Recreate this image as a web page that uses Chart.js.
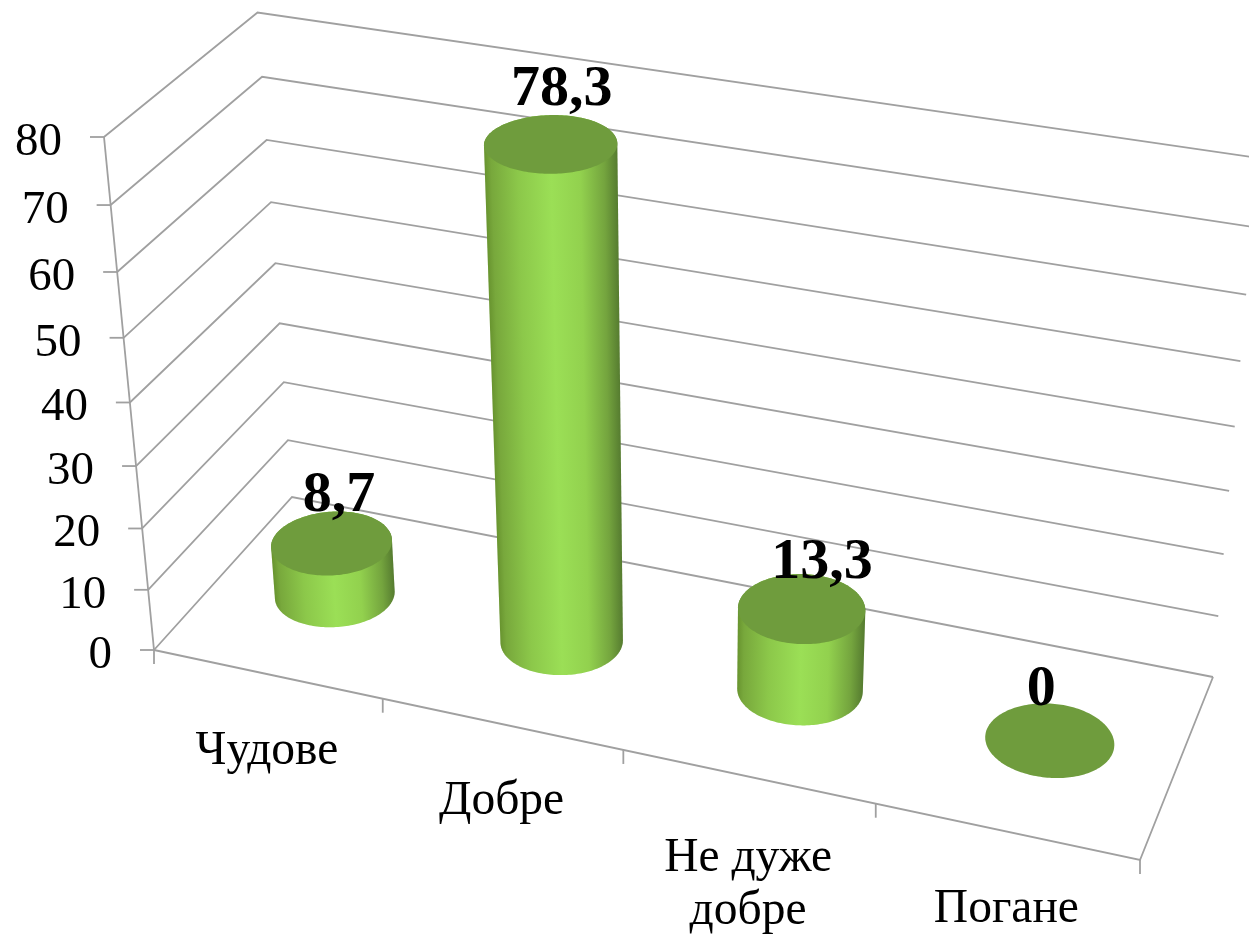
<!DOCTYPE html>
<html lang="uk">
<head>
<meta charset="utf-8">
<style>html,body{margin:0;padding:0;background:#fff}canvas{display:block}</style>
<script src="https://cdn.jsdelivr.net/npm/chart.js@4/dist/chart.umd.min.js"></script>
</head>
<body>
<canvas id="c" width="1249" height="935"></canvas>
<script>
const categories = ['Чудове', 'Добре', ['Не дуже', 'добре'], 'Погане'];
const values = [8.7, 78.3, 13.3, 0];
const valueLabels = ['8,7', '78,3', '13,3', '0'];
const axisMin = 0, axisMax = 80, axisStep = 10;

/* Perspective frame of the picture (box corners) */
const A = [154, 650], B = [1140, 860], C = [1213, 677], D = [292, 497];
const E = [104, 137], F = [257.5, 12.5], G = [1258, 158], H = [1185, 327];
const SERIF = '"Liberation Serif","Times New Roman",serif';
const GRID = '#a0a0a0';
const labelShift = [[7.5, -32], [11, -39], [20.5, -31], [-8.5, -36]];
const shadeStops = [[0, '#68942f'], [0.05, '#78a83c'], [0.25, '#8cc84a'], [0.5, '#9bdf56'],
                    [0.72, '#92d14e'], [0.9, '#74a43e'], [1, '#567c30']];

const lerp = (a, b, t) => a + (b - a) * t;
const bil = (p00, p10, p01, p11, u, z, k) =>
  lerp(lerp(p00[k], p10[k], u), lerp(p01[k], p11[k], u), z);
const warpU = u => 0.904 * u + 0.096 * u * u;
const warpT = t => 0.93 * t + 0.07 * t * t;
function project(u, t, z) {
  const U = warpU(u), f = warpT(t);
  const out = [];
  for (const k of [0, 1]) {
    const fl = bil(A, B, D, C, U, z, k);
    const tp = bil(E, H, F, G, U, z, k);
    out.push(fl + (tp - fl) * f);
  }
  return out;
}
function hull(points) {
  const p = points.slice().sort((a, b) => a[0] - b[0] || a[1] - b[1]);
  const cross = (o, a, b) => (a[0] - o[0]) * (b[1] - o[1]) - (a[1] - o[1]) * (b[0] - o[0]);
  const lo = [], up = [];
  for (const q of p) { while (lo.length > 1 && cross(lo[lo.length - 2], lo[lo.length - 1], q) <= 0) lo.pop(); lo.push(q); }
  for (const q of p.slice().reverse()) { while (up.length > 1 && cross(up[up.length - 2], up[up.length - 1], q) <= 0) up.pop(); up.push(q); }
  return lo.slice(0, -1).concat(up.slice(0, -1));
}

const scene = {
  id: 'scene',
  beforeDatasetsDraw(chart) {
    const ctx = chart.ctx, ya = chart.scales.y, xa = chart.scales.x, area = chart.chartArea;
    const fracT = v => (ya.getPixelForValue(axisMin) - ya.getPixelForValue(v)) / (ya.getPixelForValue(axisMin) - ya.getPixelForValue(axisMax));
    ctx.save();
    ctx.strokeStyle = GRID; ctx.lineWidth = 1.8; ctx.lineCap = 'butt';
    const seg = pts => { ctx.beginPath(); pts.forEach((p, i) => i ? ctx.lineTo(p[0], p[1]) : ctx.moveTo(p[0], p[1])); ctx.stroke(); };
    ya.ticks.forEach(tk => {
      const t = fracT(tk.value);
      const a = project(0, t, 0), b = project(0, t, 1), c = project(1, t, 1);
      seg([a, b, c]);
      seg([[a[0] - 14, a[1]], a]);
    });
    seg([project(0, 0, 0), project(0, 1, 0)]);
    seg([project(0, 0, 0), project(1, 0, 0), project(1, 0, 1)]);
    const n = categories.length;
    const edgeU = [0];
    for (let i = 1; i < n; i++) edgeU.push(((xa.getPixelForValue(i - 1) + xa.getPixelForValue(i)) / 2 - area.left) / area.width);
    edgeU.push(1);
    edgeU.forEach(u => { const p = project(u, 0, 0); seg([p, [p[0], p[1] + 14]]); });
    ctx.fillStyle = '#000'; ctx.font = '47px ' + SERIF; ctx.textAlign = 'right'; ctx.textBaseline = 'alphabetic';
    ya.ticks.forEach(tk => {
      const a = project(0, fracT(tk.value), 0);
      ctx.fillText(String(tk.value), a[0] - 42, a[1] + 18);
    });
    ctx.textAlign = 'center';
    ctx.font = '47.5px ' + SERIF;
    xa.getLabels().forEach((lab, i) => {
      const u = (xa.getPixelForValue(i) - area.left) / area.width;
      const p = project(u, 0, 0);
      const lines = Array.isArray(lab) ? lab : [lab];
      const extra = lines.length > 1 ? 4 : 0;
      lines.forEach((ln, j) => ctx.fillText(ln, p[0], p[1] + 90 + extra + j * 53));
    });
    ctx.restore();
  },
  afterDatasetsDraw(chart) {
    const ctx = chart.ctx, area = chart.chartArea;
    const meta = chart.getDatasetMeta(0);
    const z0 = 0.51, rz = 0.196, ru = 0.0612, du = 0.0015;
    const tops = [];
    meta.data.forEach((bar) => {
      const u0 = (bar.x - area.left) / area.width + du;
      const t = (bar.base - bar.y) / (area.bottom - area.top);
      const N = 180, topP = [], baseP = [];
      for (let k = 0; k < N; k++) {
        const th = 2 * Math.PI * k / N;
        const u = u0 + ru * Math.cos(th), z = z0 + rz * Math.sin(th);
        topP.push(project(u, t, z)); baseP.push(project(u, 0, z));
      }
      if (t > 0.001) {
        const ext = (arr, cmp) => arr.reduce((m, p) => cmp(p[0], m[0]) ? p : m, arr[0]);
        const lt = ext(topP, (a, b) => a < b), lb = ext(baseP, (a, b) => a < b);
        const rt = ext(topP, (a, b) => a > b), rb = ext(baseP, (a, b) => a > b);
        const pts = hull(topP.concat(baseP));
        const ys = pts.map(p => p[1]), y0 = Math.floor(Math.min(...ys)), y1 = Math.ceil(Math.max(...ys));
        ctx.save();
        ctx.beginPath();
        pts.forEach((p, k) => k ? ctx.lineTo(p[0], p[1]) : ctx.moveTo(p[0], p[1]));
        ctx.closePath(); ctx.clip();
        for (let y = y0; y < y1; y++) {
          const xl = lerp(lt[0], lb[0], (y - lt[1]) / (lb[1] - lt[1]));
          const xr = lerp(rt[0], rb[0], (y - rt[1]) / (rb[1] - rt[1]));
          const g = ctx.createLinearGradient(xl, 0, xr, 0);
          shadeStops.forEach(s => g.addColorStop(s[0], s[1]));
          ctx.fillStyle = g;
          ctx.fillRect(Math.min(xl, lt[0], lb[0]) - 3, y, Math.max(xr, rt[0], rb[0]) - Math.min(xl, lt[0], lb[0]) + 6, 1.2);
        }
        ctx.restore();
      }
      ctx.fillStyle = '#6f9c3d';
      ctx.beginPath();
      topP.forEach((p, k) => k ? ctx.lineTo(p[0], p[1]) : ctx.moveTo(p[0], p[1]));
      ctx.closePath(); ctx.fill();
      tops.push(project(u0, t, z0));
    });
    ctx.save();
    ctx.fillStyle = '#000'; ctx.font = 'bold 58px ' + SERIF; ctx.textAlign = 'center'; ctx.textBaseline = 'alphabetic';
    tops.forEach((p, i) => ctx.fillText(valueLabels[i], p[0] + labelShift[i][0], p[1] + labelShift[i][1]));
    ctx.restore();
  }
};

new Chart(document.getElementById('c'), {
  type: 'bar',
  data: { labels: categories, datasets: [{ data: values, backgroundColor: 'rgba(0,0,0,0)', borderWidth: 0 }] },
  options: {
    responsive: false, animation: false,
    events: [],
    layout: { padding: 0 },
    plugins: { legend: { display: false }, tooltip: { enabled: false }, title: { display: false } },
    scales: {
      x: { display: false },
      y: { display: false, min: axisMin, max: axisMax, ticks: { stepSize: axisStep } }
    }
  },
  plugins: [scene]
});
</script>
</body>
</html>
